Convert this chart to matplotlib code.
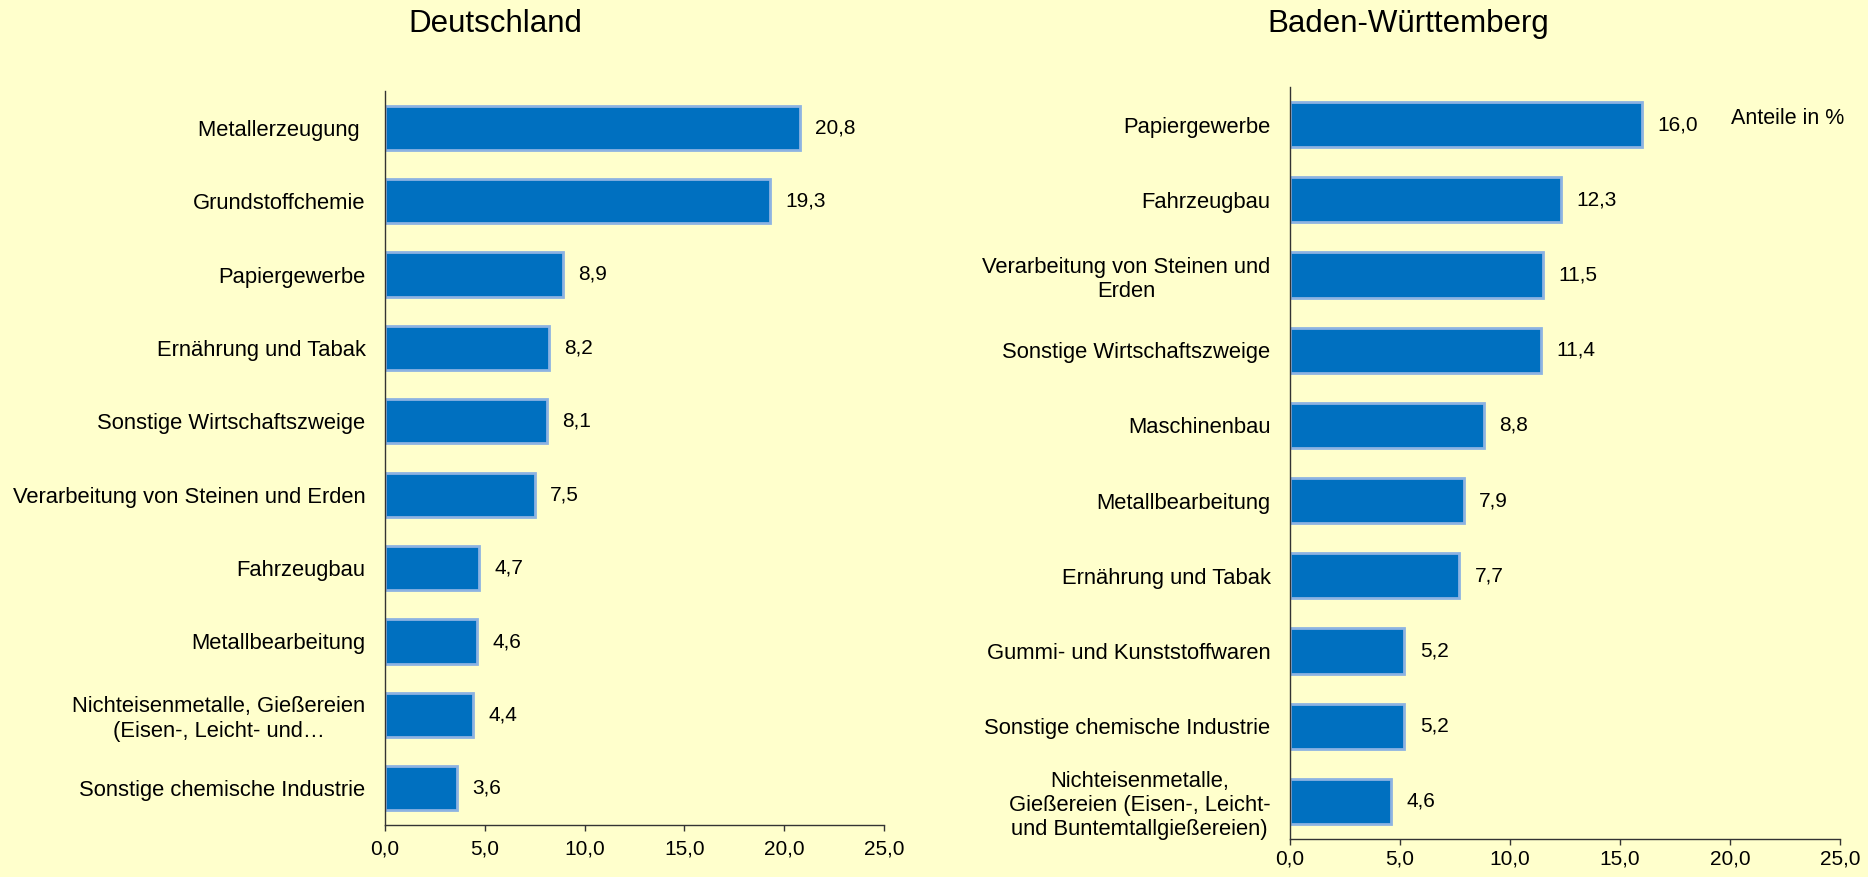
import matplotlib
matplotlib.use("Agg")
import matplotlib.pyplot as plt
from matplotlib.ticker import FuncFormatter

plt.rcParams['font.family'] = ['Liberation Sans', 'DejaVu Sans']

# Data
de_categories = [
    "Metallerzeugung ",
    "Grundstoffchemie",
    "Papiergewerbe",
    "Ernährung und Tabak",
    "Sonstige Wirtschaftszweige",
    "Verarbeitung von Steinen und Erden",
    "Fahrzeugbau",
    "Metallbearbeitung",
    "Nichteisenmetalle, Gießereien\n(Eisen-, Leicht- und…",
    "Sonstige chemische Industrie",
]
de_values = [20.8, 19.3, 8.9, 8.2, 8.1, 7.5, 4.7, 4.6, 4.4, 3.6]

bw_categories = [
    "Papiergewerbe",
    "Fahrzeugbau",
    "Verarbeitung von Steinen und\nErden",
    "Sonstige Wirtschaftszweige",
    "Maschinenbau",
    "Metallbearbeitung",
    "Ernährung und Tabak",
    "Gummi- und Kunststoffwaren",
    "Sonstige chemische Industrie",
    "Nichteisenmetalle,\nGießereien (Eisen-, Leicht-\nund Buntemtallgießereien)",
]
bw_values = [16.0, 12.3, 11.5, 11.4, 8.8, 7.9, 7.7, 5.2, 5.2, 4.6]

titles = ["Deutschland", "Baden-Württemberg"]
x_ticks = [0, 5, 10, 15, 20, 25]
unit_note = "Anteile in %"

BG = "#FFFFCC"
BAR = "#0070C0"
EDGE = "#8DB3E2"
SPINE = "#333333"

W, H = 1868, 877
fig = plt.figure(figsize=(W / 100, H / 100), dpi=100, facecolor=BG)

axes_px = [
    (385, 91, 884, 825),
    (1290, 87, 1840, 839),
]
x_pads = [6, 3]

def comma(v, pos=None):
    return f"{v:.1f}".replace(".", ",")

for (x0, y0, x1, y1), cats, vals, xp in zip(axes_px, [de_categories, bw_categories],
                                            [de_values, bw_values], x_pads):
    ax = fig.add_axes([x0 / W, 1 - y1 / H, (x1 - x0) / W, (y1 - y0) / H])
    ax.set_facecolor(BG)
    pos = list(range(len(cats)))
    bars = ax.barh(pos, vals, height=0.6, color=BAR, edgecolor=EDGE, linewidth=2.0)
    ax.set_ylim(len(cats) - 0.5, -0.5)
    ax.set_xlim(0, 25)
    ax.set_yticks(pos)
    ax.set_yticklabels(cats, fontsize=15.8, multialignment='center')
    ax.tick_params(axis='y', length=0, pad=14)
    ax.set_xticks(x_ticks)
    ax.xaxis.set_major_formatter(FuncFormatter(comma))
    ax.tick_params(axis='x', length=4.5, width=1, color=SPINE, labelsize=15, pad=xp)
    for s in ['top', 'right']:
        ax.spines[s].set_visible(False)
    for s in ['left', 'bottom']:
        ax.spines[s].set_color(SPINE)
        ax.spines[s].set_linewidth(1)
    for b, v in zip(bars, vals):
        ax.annotate(comma(v), xy=(b.get_width(), b.get_y() + b.get_height() / 2),
                    xytext=(11, 0), textcoords='offset points',
                    ha='left', va='center', fontsize=15)

fig.text(495 / W, 1 - 32 / H, titles[0], ha='center', va='baseline', fontsize=22.5)
fig.text(1408 / W, 1 - 32 / H, titles[1], ha='center', va='baseline', fontsize=22.5)
fig.text(1731 / W, 1 - 124 / H, unit_note, ha='left', va='baseline', fontsize=15.5)

fig.savefig("out.png", dpi=100, facecolor=BG)
